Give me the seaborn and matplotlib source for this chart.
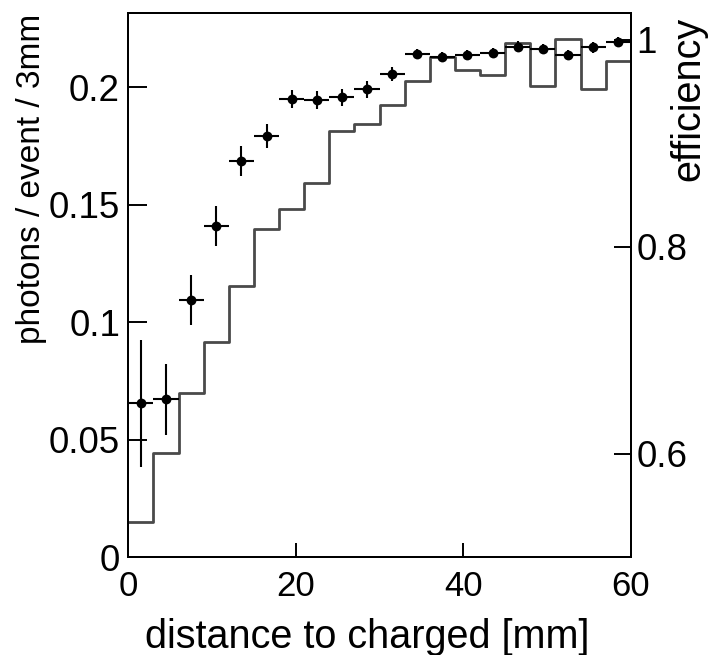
import numpy as np
import pandas as pd
import matplotlib
matplotlib.use("Agg")
import matplotlib.pyplot as plt
import seaborn as sns

# ---- data ----
bin_edges = [0, 3, 6, 9, 12, 15, 18, 21, 24, 27, 30, 33, 36, 39, 42, 45, 48, 51, 54, 57, 60]
bin_centers = [1.5, 4.5, 7.5, 10.5, 13.5, 16.5, 19.5, 22.5, 25.5, 28.5,
               31.5, 34.5, 37.5, 40.5, 43.5, 46.5, 49.5, 52.5, 55.5, 58.5]
photons = [0.0654, 0.0671, 0.1094, 0.1409, 0.1686, 0.1793, 0.1950, 0.1946, 0.1957, 0.1991,
           0.2057, 0.2143, 0.2128, 0.2138, 0.2145, 0.2173, 0.2162, 0.2138, 0.2170, 0.2193]
photons_err = [0.027, 0.015, 0.0106, 0.0084, 0.0062, 0.0050, 0.0040, 0.0040, 0.0035, 0.0035,
               0.0030, 0.0022, 0.0022, 0.0022, 0.0022, 0.0022, 0.0022, 0.0022, 0.0022, 0.0022]
efficiency = [0.5336, 0.6003, 0.6584, 0.7083, 0.7625, 0.8171, 0.8367, 0.8616, 0.9122, 0.9187,
              0.9373, 0.9599, 0.9835, 0.9712, 0.9664, 0.9971, 0.9551, 1.0012, 0.9525, 0.9793]

x_ticks = [0, 20, 40, 60]
x_ticklabels = ["0", "20", "40", "60"]
left_ticks = [0, 0.05, 0.1, 0.15, 0.2]
left_ticklabels = ["0", "0.05", "0.1", "0.15", "0.2"]
right_ticks = [0.6, 0.8, 1.0]
right_ticklabels = ["0.6", "0.8", "1"]

df_pts = pd.DataFrame({"x": bin_centers, "y": photons, "err": photons_err})
df_eff = pd.DataFrame({"x": bin_centers, "eff": efficiency})

# ---- style ----
sns.set_theme(style="ticks")
plt.rcParams["font.family"] = ["Liberation Sans", "DejaVu Sans"]
plt.rcParams["text.color"] = "black"
plt.rcParams["axes.labelcolor"] = "black"
plt.rcParams["xtick.color"] = "black"
plt.rcParams["ytick.color"] = "black"

fig = plt.figure(figsize=(7.15, 6.55), dpi=100)
ax = fig.add_axes([0.1795, 0.1496, 0.7027, 0.8301])
ax2 = ax.twinx()

# histogram (efficiency, right axis)
sns.histplot(data=df_eff, x="x", weights="eff", bins=bin_edges, element="step",
             fill=False, color="#4a4a4a", linewidth=2.0, ax=ax2)

# points with error bars (left axis)
ax.errorbar(df_pts["x"], df_pts["y"], yerr=df_pts["err"], xerr=1.5, fmt="none",
            ecolor="black", elinewidth=1.5, capsize=0, zorder=3)
sns.scatterplot(data=df_pts, x="x", y="y", color="black", s=50, edgecolor="black",
                linewidth=0, ax=ax, zorder=4)

ax.set_zorder(ax2.get_zorder() + 1)
ax.patch.set_visible(False)

ax.set_xlim(0, 60)
ax.set_ylim(0, 0.2315)
ax2.set_ylim(0.5, 1.0258)

ax.set_xticks(x_ticks)
ax.set_xticklabels(x_ticklabels)
ax.set_yticks(left_ticks)
ax.set_yticklabels(left_ticklabels)
ax2.set_yticks(right_ticks)
ax2.set_yticklabels(right_ticklabels)

ax.tick_params(axis="x", direction="in", length=10, width=1.4, labelsize=25, pad=9,
               top=False, colors="black")
ax.tick_params(axis="y", direction="in", length=13.5, width=1.4, labelsize=26.5, pad=6,
               right=False, colors="black")
ax2.tick_params(axis="y", direction="in", length=12, width=1.4, labelsize=26.5, pad=4,
                colors="black")
ax2.tick_params(axis="x", bottom=False, top=False)

for a in (ax, ax2):
    for s in a.spines.values():
        s.set_visible(True)
        s.set_linewidth(1.4)
        s.set_color("black")

ax.set_xlabel("distance to charged [mm]", fontsize=28.5, color="black")
ax.xaxis.set_label_coords(0.475, -0.112)
ax.set_ylabel("photons / event / 3mm", fontsize=24, loc="top", color="black")
ax.yaxis.set_label_coords(-0.162, 1.0)
ax2.set_ylabel("efficiency", fontsize=28.5, loc="top", rotation=90, color="black")
ax2.yaxis.set_label_coords(1.076, 0.994)

fig.savefig("out.png", dpi=100)
